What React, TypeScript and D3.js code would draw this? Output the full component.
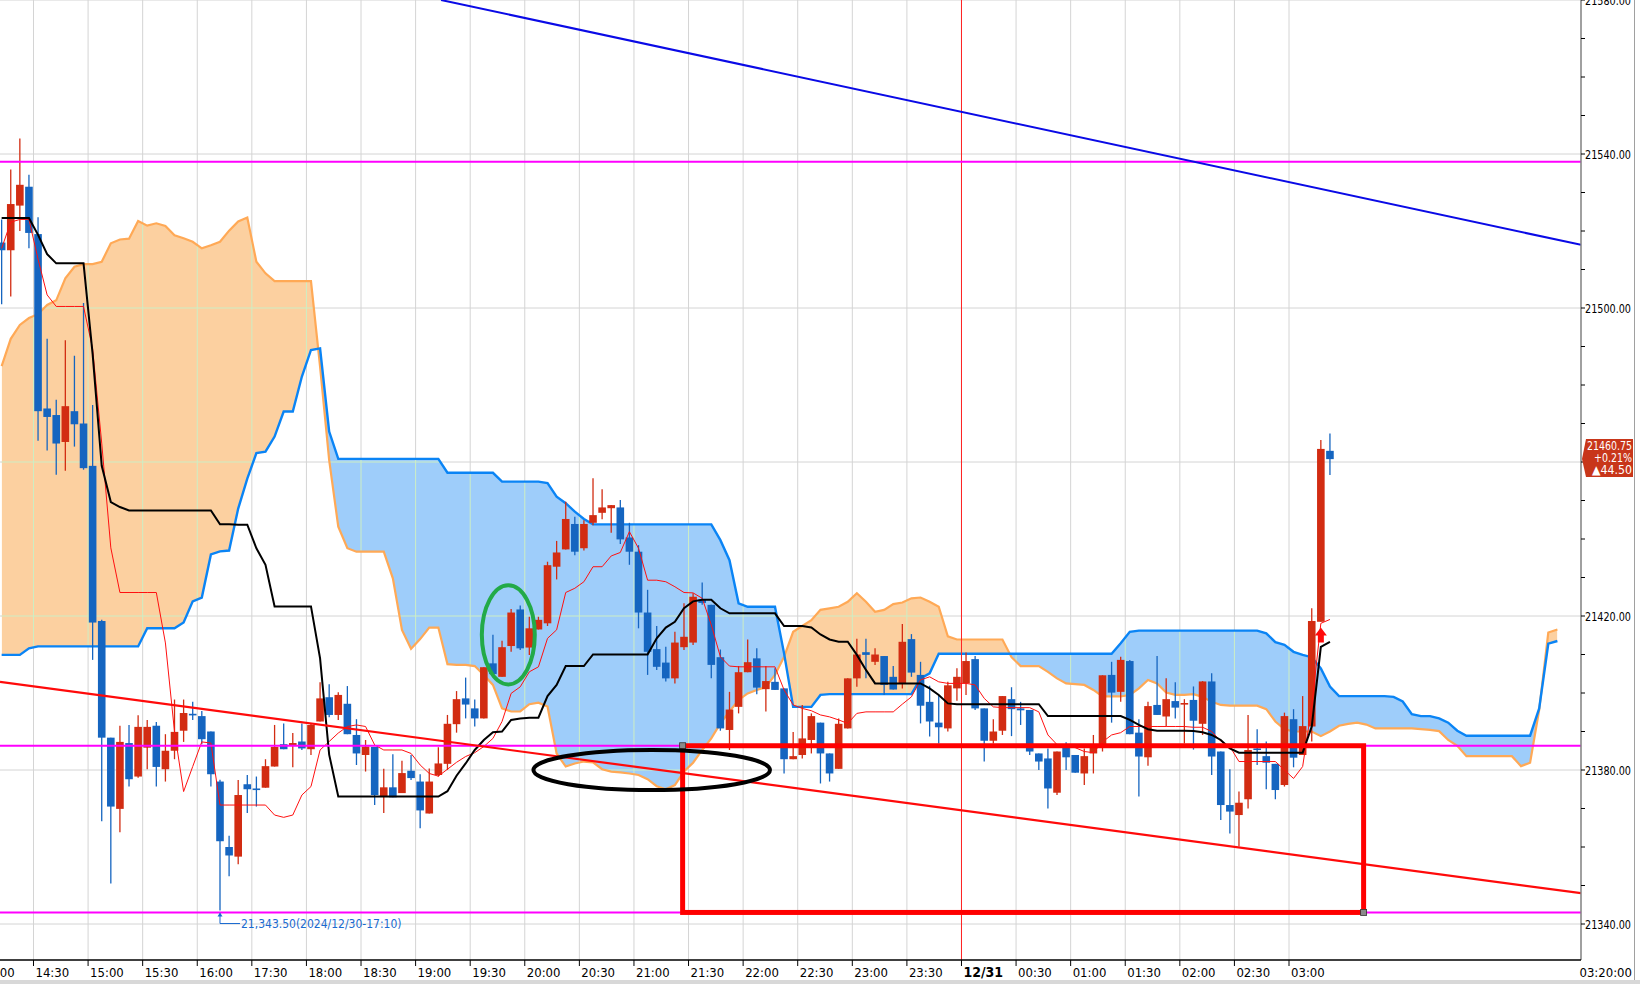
import React, { useRef, useEffect } from "react";
import * as d3 from "d3";

const W = 1640;
const H = 984;
const plotW = 1581;
const plotH = 960;

// 5-minute bars of 12/30-12/31, first visible bar is 14:10. [open, high, low, close]
const candles: [number, number, number, number][] = [
  [21517, 21523, 21501, 21515], [21515, 21536, 21503, 21527], [21526.6, 21544, 21520, 21532], [21531.5, 21534.6, 21515.5, 21519.5],
  [21519.2, 21523.6, 21465.5, 21473.2], [21473.9, 21492, 21463, 21471.7], [21472.2, 21476.2, 21456.7, 21464.8], [21465.2, 21491.6, 21457.7, 21474.5],
  [21473.2, 21487.6, 21464, 21469.8], [21470, 21501.3, 21458, 21458.4], [21459, 21474.8, 21408.6, 21418.3], [21418.7, 21419, 21366.7, 21388.4],
  [21388.4, 21388.4, 21350.5, 21370.5], [21369.9, 21391.5, 21363.8, 21387.3], [21387, 21391.7, 21375.7, 21377.6], [21378.3, 21394.2, 21378, 21391.2],
  [21385.8, 21393, 21380.2, 21391.2], [21391.5, 21392.5, 21375.7, 21380.8], [21380.2, 21389.3, 21377, 21385], [21385, 21398.3, 21382.8, 21389.9],
  [21390.2, 21398.3, 21387.3, 21394.8], [21394.6, 21397.7, 21393, 21394.2], [21394, 21395.3, 21386.7, 21388], [21390, 21390, 21375.7, 21378.9],
  [21377, 21377.5, 21343.5, 21361.5], [21360, 21362.9, 21352.4, 21357.8], [21357.5, 21377.4, 21355.5, 21373.5], [21376.3, 21378.7, 21368.8, 21375],
  [21375.2, 21378.3, 21370.5, 21374.9], [21375.4, 21382.8, 21375.4, 21381], [21380.9, 21391.7, 21380.9, 21386], [21386.7, 21392.1, 21385.4, 21385.4],
  [21386.5, 21389.6, 21380.7, 21387], [21387.4, 21392.1, 21385.2, 21385.6], [21385.4, 21392.1, 21383.9, 21391.7], [21392.6, 21402.8, 21392.6, 21398.6],
  [21398.9, 21402.3, 21393.7, 21394.3], [21394.3, 21400.2, 21393, 21399.5], [21397.2, 21401.8, 21389.3, 21389.3], [21389.1, 21393.2, 21381.3, 21384.3],
  [21383.9, 21387.8, 21379.6, 21386.1], [21386, 21386, 21370.9, 21373.5], [21373.1, 21380.3, 21368.8, 21375.5], [21375.5, 21384.1, 21372.9, 21372.9],
  [21374, 21382.4, 21374, 21379.2], [21379.8, 21383.9, 21377.4, 21377.9], [21377, 21378.9, 21364.9, 21369.5], [21368.7, 21380.4, 21368.7, 21377],
  [21378.7, 21385.9, 21378.3, 21381.7], [21381.6, 21394.3, 21380, 21392], [21391.9, 21400.5, 21389.7, 21398.4], [21398.6, 21404, 21393.4, 21397],
  [21396, 21398.3, 21391.3, 21393.4], [21393.4, 21406.7, 21393.4, 21406.7], [21407.7, 21415.1, 21404.9, 21404.9], [21404.2, 21413.6, 21404.2, 21411.9],
  [21412.2, 21421.8, 21410.7, 21420.9], [21421.7, 21422.7, 21411.2, 21411.6], [21411.8, 21419.8, 21409.9, 21416.8], [21416.5, 21419.8, 21416.5, 21419],
  [21418.1, 21434.1, 21417.4, 21433.2], [21432.8, 21439.5, 21429.5, 21436.5], [21437.3, 21449.7, 21437.3, 21445.2], [21443.9, 21445.8, 21435.8, 21436.7],
  [21437.6, 21444.9, 21437, 21443.9], [21444.2, 21455.8, 21443.6, 21446.2], [21446.8, 21452.9, 21445.1, 21448.2], [21448, 21448.8, 21441.6, 21448.8],
  [21448.2, 21450.1, 21438.7, 21439.9], [21440.4, 21444.2, 21433.3, 21436.7], [21436.7, 21438.4, 21416.8, 21420.9], [21420.9, 21426.8, 21404.7, 21410.7],
  [21411.4, 21417.4, 21406, 21406.8], [21407.9, 21412, 21403, 21403.8], [21403.8, 21415.9, 21402.5, 21413.1], [21411.9, 21423.3, 21411.2, 21414.6],
  [21413.1, 21425.9, 21412.5, 21425], [21424.3, 21428.7, 21422.9, 21423.4], [21422.9, 21422.9, 21403.8, 21407.3], [21409.3, 21411.3, 21390.2, 21390.8],
  [21390.4, 21400.3, 21385.2, 21395.7], [21396.4, 21407, 21394.7, 21405.4], [21405.4, 21413.9, 21405.4, 21408], [21409, 21411.6, 21399.7, 21401.4],
  [21401, 21407, 21395.2, 21403.1], [21402.9, 21406.4, 21400.8, 21400.8], [21401.2, 21401.2, 21379.1, 21382.8], [21382.8, 21389.9, 21382.8, 21383.6],
  [21383.9, 21396.9, 21383, 21388.2], [21387.8, 21394.7, 21384.3, 21394], [21392.3, 21392.3, 21376.5, 21384.3], [21384.3, 21384.3, 21377, 21379.1],
  [21380.3, 21393.4, 21380.3, 21392], [21390.8, 21403.8, 21390.8, 21403.8], [21403.8, 21414.1, 21401.6, 21410], [21410.6, 21414.1, 21403.8, 21409.9],
  [21408.1, 21411.6, 21407.3, 21410], [21409.6, 21409.6, 21399.5, 21402.1], [21404.2, 21407, 21400.9, 21400.9], [21402.5, 21417.9, 21401.2, 21413.3],
  [21414, 21415.3, 21404.2, 21405.3], [21404.7, 21408.1, 21392.1, 21396.7], [21397.7, 21401.9, 21388.7, 21392.6], [21392.3, 21399.5, 21386.9, 21391.1],
  [21390.8, 21402.9, 21390, 21402], [21401.2, 21406.4, 21398, 21404.2], [21402.5, 21410.5, 21399.5, 21408.3], [21408.8, 21409.6, 21395.6, 21396],
  [21396, 21396, 21382.2, 21387.6], [21387.6, 21393.2, 21386.9, 21390], [21390.2, 21399.2, 21389.1, 21399.2], [21398.4, 21401.5, 21388.8, 21395.8],
  [21396, 21397.7, 21391.7, 21395.5], [21395.6, 21395.6, 21383.9, 21384.8], [21384.3, 21384.3, 21380, 21382.2], [21383, 21385.6, 21370, 21375.2],
  [21374.1, 21384.8, 21373.5, 21384.8], [21386.1, 21387.2, 21380, 21383.3], [21383.9, 21383.9, 21379.3, 21379.3], [21379.1, 21385.6, 21376.1, 21383.6],
  [21384.3, 21389.1, 21379.1, 21386.5], [21386.5, 21404.6, 21384.8, 21404.6], [21404.7, 21408.1, 21392.3, 21400.1], [21400.3, 21409.4, 21397.7, 21408.6],
  [21408.3, 21408.6, 21389.3, 21389.3], [21389.7, 21393.2, 21373.1, 21383.5], [21383.3, 21397.7, 21381.1, 21396.6], [21396.9, 21409.6, 21394.3, 21394.3],
  [21393.9, 21403.8, 21391.3, 21398.4], [21397.9, 21402.8, 21393.4, 21396.2], [21397.2, 21398.4, 21386.9, 21397.4], [21398.2, 21401.7, 21385.3, 21392.8],
  [21392, 21403.1, 21389.1, 21403], [21403, 21405.1, 21378.7, 21383.5], [21384.8, 21384.8, 21367, 21370.9], [21370.9, 21380.2, 21363.5, 21369.2],
  [21368.3, 21374.4, 21360.1, 21371.5], [21372.4, 21394.3, 21370, 21385.2], [21385.6, 21390.6, 21381.3, 21385.2], [21383.6, 21387.4, 21375, 21381.9],
  [21381.6, 21381.6, 21372.4, 21374.8], [21376.1, 21394.9, 21375.7, 21394], [21393.2, 21395.8, 21380.7, 21383.2], [21383.9, 21399.2, 21383.9, 21391.4],
  [21391.3, 21422, 21387.4, 21418.7], [21418.5, 21465.7, 21418.5, 21463.4], [21462.9, 21467.4, 21456.6, 21460.75],
];

// Ichimoku conversion line (thin red), one value per bar
const tenkan: number[] = [
  21515.5, 21522.3, 21523, 21523, 21512.7, 21503.4, 21500.4, 21500.4, 21500.4, 21500.4,
  21489.4, 21464.9, 21437.7, 21426.1, 21426.1, 21426.1, 21426.1, 21426.1, 21413, 21390,
  21374.4, 21380.9, 21387.3, 21387, 21370.9, 21370.9, 21370.9, 21370.9, 21370.9, 21370.9,
  21368.3, 21367.7, 21368.3, 21373.5, 21375.7, 21385.2, 21387.4, 21389.6, 21391.3, 21391.7,
  21391.3, 21386.5, 21385.2, 21385.2, 21385.2, 21384.3, 21381.3, 21379.1, 21378.4, 21380.2,
  21382, 21383.5, 21384.5, 21386.1, 21388.2, 21392.6, 21399.9, 21401.6, 21405.5, 21406.8,
  21414.2, 21416.4, 21426.1, 21427.2, 21428.9, 21432.8, 21432.8, 21435.6, 21436.5, 21441.9,
  21437.6, 21429.3, 21429.3, 21428.9, 21427.6, 21426.1, 21426, 21424.6, 21417.7, 21409.4,
  21407, 21406.8, 21406.8, 21406.8, 21406.8, 21406.8, 21400.8, 21396.9, 21396, 21395.4,
  21394.3, 21393.8, 21393, 21392.1, 21394.7, 21395.1, 21395.1, 21395.1, 21395.1, 21397.1,
  21399, 21403.4, 21404.2, 21402.9, 21402.5, 21402.5, 21402.5, 21402.1, 21398.6, 21396.4,
  21396.2, 21396.2, 21396.2, 21396.2, 21395.1, 21389.1, 21386.6, 21386.2, 21385.8, 21384.8,
  21384.5, 21387.3, 21389.1, 21389.7, 21391.3, 21391.3, 21391.3, 21391.3, 21391.3, 21391.3,
  21391.3, 21391.1, 21391.1, 21390, 21387.5, 21386.1, 21382.2, 21382.2, 21382.2, 21382.2,
  21382.2, 21380, 21377.8, 21380.9, 21396.5, 21418.1, 21419.1,
];

// Ichimoku base line (black)
const kijun: number[] = [
  21523.4, 21523.4, 21523.4, 21523.4, 21519, 21514, 21511.6, 21511.6, 21511.6, 21511.6,
  21488, 21459, 21449.6, 21448.3, 21447.4, 21447.4, 21447.4, 21447.4, 21447.4, 21447.4,
  21447.4, 21447.4, 21447.4, 21447.4, 21443.8, 21443.8, 21443.7, 21443.7, 21437.6, 21433.3,
  21422.5, 21422.5, 21422.5, 21422.5, 21422.5, 21409, 21384, 21373.1, 21373.1, 21373.1,
  21373.1, 21373.1, 21373.1, 21373.1, 21373.1, 21373.1, 21373.1, 21373.1, 21373.1, 21374.5,
  21378.5, 21381.7, 21385.2, 21387.8, 21389.8, 21390, 21393, 21393.4, 21393.6, 21393.6,
  21399.2, 21402.1, 21407, 21407, 21407, 21410, 21410, 21410, 21410, 21410,
  21410, 21410, 21414.2, 21417, 21418.5, 21422, 21423.8, 21424.2, 21424.2, 21422,
  21420.7, 21420.7, 21420.7, 21420.7, 21420.7, 21420.7, 21417.4, 21417.4, 21417.4, 21417,
  21415.2, 21413.9, 21413.3, 21413.3, 21409.9, 21406, 21402.5, 21402.5, 21402.5, 21402.5,
  21402.5, 21402.5, 21401.2, 21399.5, 21397.3, 21397.1, 21397.1, 21397.1, 21397.1, 21397.1,
  21397.1, 21397.1, 21397.1, 21397.1, 21397.1, 21394, 21394, 21394, 21394, 21394,
  21394, 21394, 21394, 21394, 21393, 21391.7, 21390.6, 21390.2, 21390.2, 21390.2,
  21390.2, 21390.1, 21389.8, 21389.1, 21387.8, 21385.6, 21384.5, 21384.5, 21384.5, 21384.5,
  21384.5, 21384.5, 21384.5, 21384.5, 21391.3, 21412, 21413.3,
];

// leading span A (blue) and span B (orange), plotted 26 bars ahead
const spanA: number[] = [
  21409.9, 21409.9, 21409.9, 21411.6, 21412.1, 21412.1, 21412.1, 21412.1, 21412.1, 21412.1,
  21412.1, 21412.1, 21412.1, 21412.1, 21412.1, 21412.1, 21416.8, 21416.8, 21416.8, 21416.8,
  21418.3, 21423.8, 21424.8, 21436, 21436.8, 21437, 21447.9, 21455.7, 21462.3, 21462.7,
  21466.6, 21473.1, 21473.1, 21482.2, 21489.1, 21489.5, 21467.9, 21460.8, 21460.8, 21460.8,
  21460.8, 21460.8, 21460.8, 21460.8, 21460.8, 21460.8, 21460.8, 21460.8, 21460.8, 21457.2,
  21457.2, 21457.2, 21457.2, 21457.2, 21457.2, 21454.9, 21454.9, 21454.9, 21454.9, 21454.9,
  21454.5, 21451, 21449.3, 21447.1, 21445.2, 21443.8, 21443.8, 21443.8, 21443.8, 21443.8,
  21443.8, 21443.8, 21443.8, 21443.8, 21443.8, 21443.8, 21443.8, 21443.8, 21443.8, 21439.7,
  21434.5, 21423.3, 21422.4, 21422.4, 21422.4, 21422.4, 21410.3, 21396.4, 21396.4, 21396.4,
  21399.5, 21399.7, 21399.7, 21399.7, 21399.7, 21399.7, 21399.7, 21399.7, 21399.7, 21399.7,
  21399.7, 21403.8, 21405.1, 21410.2, 21410.2, 21410.2, 21410.2, 21410.2, 21410.2, 21410.2,
  21410.2, 21410.2, 21410.2, 21410.2, 21410.2, 21410.2, 21410.2, 21410.2, 21410.2, 21410.2,
  21410.2, 21410.2, 21410.2, 21412.9, 21415.9, 21416.2, 21416.2, 21416.2, 21416.2, 21416.2,
  21416.2, 21416.2, 21416.2, 21416.2, 21416.2, 21416.2, 21416.2, 21416.2, 21416.2, 21415.5,
  21413.2, 21412.5, 21410.7, 21409.9, 21409.3, 21406.4, 21401.7, 21399.2, 21399.2, 21399.2,
  21399.2, 21399.2, 21399.2, 21399, 21397.8, 21394.5, 21394, 21394, 21393.4, 21392.3,
  21390.2, 21388.9, 21388.9, 21388.9, 21388.9, 21388.9, 21388.9, 21388.9, 21388.9, 21396,
  21412.8, 21413.5,
];

const spanB: number[] = [
  21484.9, 21492, 21495.6, 21497.4, 21498.4, 21500.8, 21502, 21507.7, 21510.7, 21511.4,
  21511.4, 21512, 21516.8, 21517.8, 21518, 21522.6, 21521.4, 21522, 21521.3, 21518.9,
  21518.1, 21517.2, 21515.5, 21516.3, 21517.2, 21520.1, 21522.5, 21523.5, 21512, 21509,
  21507, 21507, 21507, 21507, 21507, 21484.8, 21460.5, 21443.2, 21437.6, 21436.7,
  21436.7, 21436.7, 21436.7, 21429.8, 21416.4, 21411.5, 21414, 21417, 21417, 21407.5,
  21407.3, 21407.3, 21407, 21404.7, 21402.1, 21396, 21395.2, 21395.2, 21397.1, 21397.5,
  21396.5, 21384.3, 21380.9, 21381.7, 21382.2, 21382, 21380.2, 21379.6, 21379.4, 21379.1,
  21378.7, 21377.6, 21375.8, 21375, 21376.1, 21379.6, 21381.9, 21385.2, 21388.2, 21392.1,
  21395.2, 21398.2, 21399.9, 21400.8, 21401.6, 21404.7, 21409.4, 21415.9, 21417.4, 21418.9,
  21421.6, 21422, 21422.4, 21423.7, 21425.9, 21423.7, 21421.1, 21421.6, 21423.1, 21423.5,
  21424.6, 21424.8, 21423.7, 21422.4, 21414.7, 21413.9, 21413.9, 21413.9, 21413.9, 21413.9,
  21413.9, 21409.3, 21407, 21407, 21407, 21405.5, 21403.8, 21402.5, 21402.3, 21402.1,
  21400.8, 21399.1, 21399.1, 21399.1, 21399.5, 21401.2, 21403.4, 21402.5, 21400.1, 21399.5,
  21399.5, 21399.7, 21399, 21397.7, 21396.9, 21396.7, 21396.7, 21396.7, 21396.7, 21395.8,
  21392.6, 21390.6, 21390, 21390, 21390, 21388.8, 21390, 21391.5, 21392, 21392.3,
  21391.8, 21390.8, 21390.8, 21390.8, 21390.8, 21390.8, 21390.6, 21390.4, 21390.1, 21387.8,
  21386.3, 21383.6, 21383.6, 21383.6, 21383.6, 21383.6, 21383.6, 21381, 21381.9, 21395.6,
  21415.7, 21416.5,
];

// time axis labels: [bar index, label]
const timeTicks: [number, string][] = [
  [-2, "14:00"], [4, "14:30"], [10, "15:00"], [16, "15:30"], [22, "16:00"], [28, "17:30"],
  [34, "18:00"], [40, "18:30"], [46, "19:00"], [52, "19:30"], [58, "20:00"], [64, "20:30"],
  [70, "21:00"], [76, "21:30"], [82, "22:00"], [88, "22:30"], [94, "23:00"], [100, "23:30"],
  [106, "12/31"], [112, "00:30"], [118, "01:00"], [124, "01:30"], [130, "02:00"], [136, "02:30"],
  [142, "03:00"],
];
const dayBreak = 106;
const priceTicks = [21340, 21380, 21420, 21460, 21500, 21540, 21580];

// user drawings
const levels = [21538, 21386.3, 21343];
const blueTrend: [number, number][] = [[48.3, 21580], [173.6, 21516.4]];
const redTrend: [number, number][] = [[-0.18, 21402.9], [173.6, 21348]];
const box = { from: 74.85, to: 149.7, top: 21386.3, bottom: 21343 };
const blackOval = { bar: 71.45, bars: 13, price: 21380, span: 5.2 };
const greenOval = { bar: 55.69, bars: 2.91, price: 21415.1, span: 12.86 };
const lowBar = 24;
const lowText = "21,343.50(2024/12/30-17:10)";
const signalBar = 145;
const last = { price: "21460.75", pct: "+0.21%", chg: "▲44.50", value: 21460.75 };

const UP = "#d22c12";
const DOWN = "#1565c0";
const font = "'Liberation Sans Narrow', 'DejaVu Sans Condensed', 'Arial Narrow', sans-serif";

const App = () => {
  const ref = useRef<SVGSVGElement>(null);

  useEffect(() => {
    const svg = d3.select(ref.current);
    svg.selectAll("*").remove();

    const x = d3.scaleLinear().domain([-0.1814, 173.595]).range([0, plotW]);
    const y = d3.scaleLinear().domain([21580 - plotH / 3.85, 21580]).range([plotH, 0]);

    const defs = svg.append("defs");
    defs.append("clipPath").attr("id", "plot").append("rect").attr("width", plotW).attr("height", plotH);

    const bandArea = d3
      .area<number>()
      .x((_, i) => x(i))
      .y0((d) => y(d))
      .y1((_, i) => y(spanB[i]));
    const lineB = d3
      .line<number>()
      .x((_, i) => x(i))
      .y((d) => y(d));
    const aboveB = d3
      .area<number>()
      .x((_, i) => x(i))
      .y0(0)
      .y1((d) => y(d));
    const belowB = d3
      .area<number>()
      .x((_, i) => x(i))
      .y0(plotH)
      .y1((d) => y(d));

    defs.append("clipPath").attr("id", "aboveB").append("path").attr("d", aboveB(spanB) as string);
    defs.append("clipPath").attr("id", "belowB").append("path").attr("d", belowB(spanB) as string);
    defs.append("clipPath").attr("id", "band").append("path").attr("d", bandArea(spanA) as string);

    svg.append("rect").attr("width", W).attr("height", H).attr("fill", "#fff");

    const g = svg.append("g").attr("clip-path", "url(#plot)");

    // grid
    g.selectAll(".vg")
      .data(timeTicks)
      .enter()
      .append("line")
      .attr("x1", (d) => x(d[0] - 0.5))
      .attr("x2", (d) => x(d[0] - 0.5))
      .attr("y1", 0)
      .attr("y2", plotH)
      .attr("stroke", "#d4d4d4")
      .attr("stroke-width", 1);
    g.selectAll(".hg")
      .data(priceTicks)
      .enter()
      .append("line")
      .attr("x1", 0)
      .attr("x2", plotW)
      .attr("y1", (d) => y(d))
      .attr("y2", (d) => y(d))
      .attr("stroke", "#d4d4d4")
      .attr("stroke-width", 1);

    // cloud
    g.append("path").attr("d", bandArea(spanA) as string).attr("fill", "#9ecdfa").attr("clip-path", "url(#aboveB)");
    g.append("path").attr("d", bandArea(spanA) as string).attr("fill", "#fcd0a0").attr("clip-path", "url(#belowB)");
    const cg = g.append("g").attr("clip-path", "url(#band)");
    timeTicks.forEach((t) => {
      cg.append("line")
        .attr("x1", x(t[0] - 0.5))
        .attr("x2", x(t[0] - 0.5))
        .attr("y1", 0)
        .attr("y2", plotH)
        .attr("stroke", "#cdeec4");
    });
    priceTicks.forEach((p) => {
      cg.append("line").attr("x1", 0).attr("x2", plotW).attr("y1", y(p)).attr("y2", y(p)).attr("stroke", "#cdeec4");
    });
    g.append("path").attr("d", lineB(spanB) as string).attr("fill", "none").attr("stroke", "#ffa956").attr("stroke-width", 2.2);
    g.append("path").attr("d", lineB(spanA) as string).attr("fill", "none").attr("stroke", "#0a84f5").attr("stroke-width", 2.4);

    // day break
    g.append("line")
      .attr("x1", x(dayBreak - 0.5))
      .attr("x2", x(dayBreak - 0.5))
      .attr("y1", 0)
      .attr("y2", plotH)
      .attr("stroke", "#ff2020")
      .attr("stroke-width", 1);

    // candles
    const bw = 7.6;
    const cs = g.append("g");
    candles.forEach(([o, h, l, c], i) => {
      const col = c >= o ? UP : DOWN;
      cs.append("line")
        .attr("x1", x(i))
        .attr("x2", x(i))
        .attr("y1", y(h))
        .attr("y2", y(l))
        .attr("stroke", col)
        .attr("stroke-width", 1.3);
      const top = y(Math.max(o, c));
      const hgt = Math.max(1.6, Math.abs(y(o) - y(c)));
      cs.append("rect")
        .attr("x", x(i) - bw / 2)
        .attr("y", top)
        .attr("width", bw)
        .attr("height", hgt)
        .attr("fill", col);
    });

    const line = d3
      .line<number>()
      .x((_, i) => x(i))
      .y((d) => y(d));
    g.append("path").attr("d", line(tenkan) as string).attr("fill", "none").attr("stroke", "#ff1010").attr("stroke-width", 1);
    g.append("path").attr("d", line(kijun) as string).attr("fill", "none").attr("stroke", "#000").attr("stroke-width", 2);

    // horizontal levels and trend lines
    levels.forEach((v) => {
      g.append("line").attr("x1", 0).attr("x2", plotW).attr("y1", y(v)).attr("y2", y(v)).attr("stroke", "#ff00ff").attr("stroke-width", 2);
    });
    const seg = d3
      .line<[number, number]>()
      .x((d) => x(d[0]))
      .y((d) => y(d[1]));
    g.append("path").attr("d", seg(blueTrend) as string).attr("stroke", "#0a0ae6").attr("stroke-width", 2).attr("fill", "none");
    g.append("path").attr("d", seg(redTrend) as string).attr("stroke", "#ff0a0a").attr("stroke-width", 2.2).attr("fill", "none");

    // red box
    g.append("rect")
      .attr("x", x(box.from))
      .attr("y", y(box.top))
      .attr("width", x(box.to) - x(box.from))
      .attr("height", y(box.bottom) - y(box.top))
      .attr("fill", "none")
      .attr("stroke", "#ff0000")
      .attr("stroke-width", 5);
    [
      [box.from, box.top],
      [box.to, box.bottom],
    ].forEach(([b, p]) => {
      g.append("rect")
        .attr("x", x(b) - 3)
        .attr("y", y(p) - 3)
        .attr("width", 6)
        .attr("height", 6)
        .attr("fill", "#8a8a8a")
        .attr("stroke", "#333")
        .attr("stroke-width", 0.8);
    });

    // ovals
    g.append("ellipse")
      .attr("cx", x(blackOval.bar))
      .attr("cy", y(blackOval.price))
      .attr("rx", x(blackOval.bar + blackOval.bars) - x(blackOval.bar))
      .attr("ry", y(blackOval.price - blackOval.span) - y(blackOval.price))
      .attr("fill", "none")
      .attr("stroke", "#000")
      .attr("stroke-width", 4);
    g.append("ellipse")
      .attr("cx", x(greenOval.bar))
      .attr("cy", y(greenOval.price))
      .attr("rx", x(greenOval.bar + greenOval.bars) - x(greenOval.bar))
      .attr("ry", y(greenOval.price - greenOval.span) - y(greenOval.price))
      .attr("fill", "none")
      .attr("stroke", "#22aa48")
      .attr("stroke-width", 4);

    // buy signal arrow
    const sx = x(signalBar);
    const sy = y(21417);
    g.append("path")
      .attr("d", `M${sx},${sy} L${sx + 6},${sy + 8} L${sx + 3},${sy + 8} L${sx + 3},${sy + 15} L${sx - 3},${sy + 15} L${sx - 3},${sy + 8} L${sx - 6},${sy + 8} Z`)
      .attr("fill", "#ff0a0a");

    // low marker
    const lx = x(lowBar);
    const ly = y(candles[lowBar][2]) + 2;
    g.append("path")
      .attr("d", `M${lx},${ly + 1} L${lx},${ly + 11} L${lx + 20},${ly + 11}`)
      .attr("fill", "none")
      .attr("stroke", "#1a6ad0")
      .attr("stroke-width", 1);
    g.append("path").attr("d", `M${lx},${ly} L${lx - 2.5},${ly + 4} L${lx + 2.5},${ly + 4} Z`).attr("fill", "#1a6ad0");
    g.append("text")
      .attr("x", lx + 21)
      .attr("y", ly + 15)
      .attr("font-family", font)
      .attr("font-size", 12)
      .attr("fill", "#1a6ad0")
      .text(lowText);

    // price axis
    svg.append("line").attr("x1", plotW).attr("x2", plotW).attr("y1", 0).attr("y2", plotH).attr("stroke", "#808080").attr("stroke-width", 1.5);
    d3.range(21340, 21581, 10).forEach((v) => {
      svg.append("line").attr("x1", plotW).attr("x2", plotW + 4).attr("y1", y(v)).attr("y2", y(v)).attr("stroke", "#000").attr("stroke-width", 1);
    });
    priceTicks
      .filter((v) => Math.abs(v - last.value) > 8)
      .forEach((v) => {
        svg.append("text")
          .attr("x", plotW + 4)
          .attr("y", y(v) + 4.5)
          .attr("font-family", font)
          .attr("font-size", 12.5)
          .attr("textLength", 46)
          .attr("lengthAdjust", "spacingAndGlyphs")
          .attr("fill", "#000")
          .text(v.toFixed(2));
      });

    // last price tag
    const ty = y(last.value);
    svg.append("path")
      .attr("d", `M${plotW + 1},${ty} L${plotW + 5},${ty - 20} L${1633},${ty - 20} L${1633},${ty + 18} L${plotW + 5},${ty + 18} Z`)
      .attr("fill", "#c8361a");
    [last.price, last.pct, last.chg].forEach((s, k) => {
      svg.append("text")
        .attr("x", 1632)
        .attr("y", ty - 9 + k * 12)
        .attr("text-anchor", "end")
        .attr("font-family", font)
        .attr("font-size", 12)
        .attr("textLength", [45, 38, 40][k])
        .attr("lengthAdjust", "spacingAndGlyphs")
        .attr("fill", "#fff")
        .text(s);
    });

    // time axis
    svg.append("line").attr("x1", 0).attr("x2", plotW).attr("y1", plotH).attr("y2", plotH).attr("stroke", "#000").attr("stroke-width", 1.5);
    timeTicks.forEach(([b, s]) => {
      const tx = x(b - 0.5);
      svg.append("line").attr("x1", tx).attr("x2", tx).attr("y1", plotH).attr("y2", plotH + 6).attr("stroke", "#000");
      svg.append("text")
        .attr("x", tx + 2)
        .attr("y", plotH + 17)
        .attr("font-family", font)
        .attr("font-size", b === dayBreak ? 14 : 13)
        .attr("font-weight", b === dayBreak ? "bold" : "normal")
        .attr("fill", "#000")
        .text(s);
    });
    svg.append("text")
      .attr("x", 1632)
      .attr("y", plotH + 17)
      .attr("text-anchor", "end")
      .attr("font-family", font)
      .attr("font-size", 13)
      .text("03:20:00");

    // frame bits
    svg.append("line").attr("x1", 1634.5).attr("x2", 1634.5).attr("y1", 0).attr("y2", H).attr("stroke", "#a0a0a0");
    svg.append("rect").attr("x", 0).attr("y", 980).attr("width", W).attr("height", 4).attr("fill", "#d8d8d8");
  }, []);

  return <svg ref={ref} width={W} height={H} style={{ position: "absolute", left: 0, top: 0 }} />;
};

export default App;
